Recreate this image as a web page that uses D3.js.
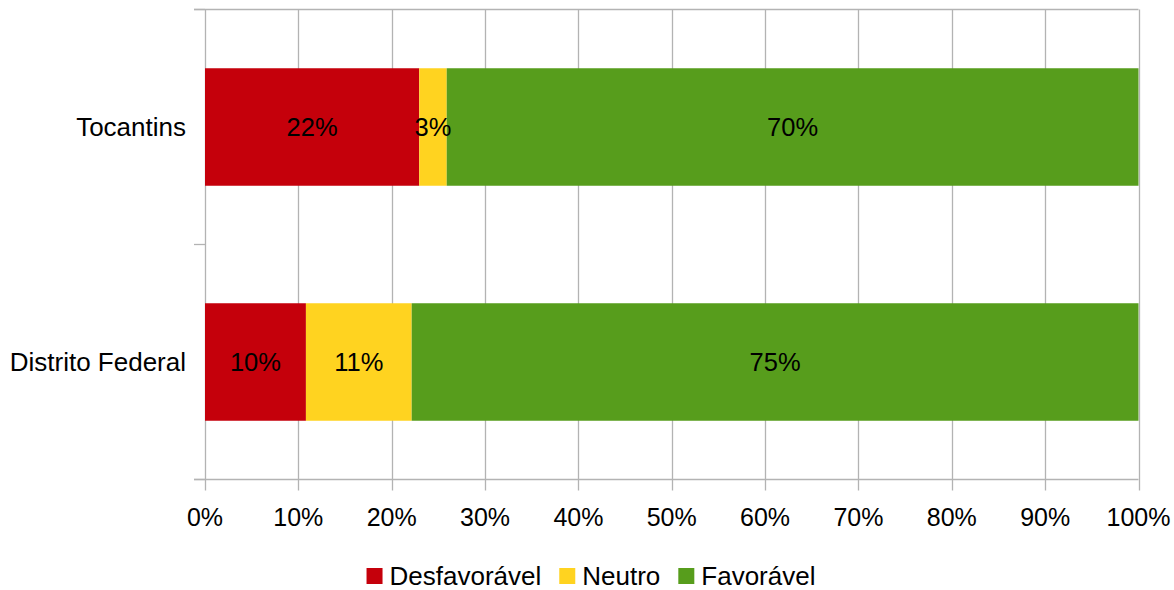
<!DOCTYPE html>
<html><head><meta charset="utf-8">
<script src="https://cdn.jsdelivr.net/npm/d3@7"></script>
<style>body{margin:0;background:#fff}svg{display:block;font-family:"Liberation Sans",Arial,sans-serif}</style>
</head><body><svg id="c" width="1174" height="590"></svg>
<script>
const categories = ["Tocantins", "Distrito Federal"];
const seriesNames = ["Desfavorável", "Neutro", "Favorável"];
const desfavoravel = [21.8, 10.4];
const neutro = [2.8, 10.9];
const favoravel = [70.4, 74.9];
const xTicks = [0,10,20,30,40,50,60,70,80,90,100];
const colors = ["#c5000b", "#ffd320", "#579d1c"];

const svg = d3.select("#c");
const L = 205, R = 1138.5, T = 9.5, B = 479.5;
const x = d3.scaleLinear().domain([0,100]).range([L,R]);
const y = d3.scaleBand().domain(categories).range([T,B]).paddingInner(0.5).paddingOuter(0.25);
const grid = "#b3b3b3";

svg.append("g").selectAll("line").data(xTicks).join("line")
  .attr("x1", d=>Math.round(x(d))+0.5).attr("x2", d=>Math.round(x(d))+0.5)
  .attr("y1", T).attr("y2", B+11).attr("stroke", grid).attr("stroke-width",1.3);
svg.append("line").attr("x1", L-11).attr("x2", R).attr("y1", T).attr("y2", T).attr("stroke", grid).attr("stroke-width",1.3);
svg.append("line").attr("x1", L-11).attr("x2", R).attr("y1", B).attr("y2", B).attr("stroke", grid).attr("stroke-width",1.3);
const bounds = d3.range(categories.length+1).map(i => T + i*y.step());
svg.append("g").selectAll("line").data(bounds).join("line")
  .attr("x1", L-11).attr("x2", L).attr("y1", d=>d).attr("y2", d=>d).attr("stroke", grid).attr("stroke-width",1.3);

const rows = categories.map((c,i)=>({cat:c, v:[desfavoravel[i], neutro[i], favoravel[i]]}));
rows.forEach(r=>{
  const tot = d3.sum(r.v); let acc = 0;
  r.segs = r.v.map((v,k)=>{ const s={k, v, x0:acc/tot*100, x1:(acc+v)/tot*100}; acc+=v; return s; });
});
const gBars = svg.append("g");
rows.forEach(r=>{
  gBars.selectAll(null).data(r.segs).join("rect")
    .attr("x", d=>x(d.x0)).attr("width", d=>x(d.x1)-x(d.x0))
    .attr("y", y(r.cat)).attr("height", y.bandwidth())
    .attr("fill", d=>colors[d.k]);
});
rows.forEach(r=>{
  gBars.selectAll(null).data(r.segs).join("text")
    .attr("x", d=>(x(d.x0)+x(d.x1))/2).attr("y", y(r.cat)+y.bandwidth()/2)
    .attr("dy","0.35em").attr("text-anchor","middle").attr("font-size",25.5).attr("fill","#000")
    .text(d=>Math.round(d.v)+"%");
});

svg.append("g").selectAll("text").data(xTicks).join("text")
  .attr("x", d=>x(d)).attr("y", 517).attr("dy","0.35em").attr("text-anchor","middle")
  .attr("font-size",25).text(d=>d+"%");
svg.append("g").selectAll("text").data(categories).join("text")
  .attr("x", 186).attr("y", d=>y(d)+y.bandwidth()/2).attr("dy","0.35em").attr("text-anchor","end")
  .attr("font-size",26).text(d=>d);

const lg = svg.append("g");
let cx = 0;
seriesNames.forEach((n,i)=>{
  const g = lg.append("g").attr("transform",`translate(${cx},0)`);
  g.append("rect").attr("x",0).attr("y",-8).attr("width",16).attr("height",16).attr("fill",colors[i]);
  const t = g.append("text").attr("x",23).attr("y",0).attr("dy","0.35em").attr("font-size",26).text(n);
  cx += 23 + t.node().getComputedTextLength() + 18;
});
const lw = cx - 18;
lg.attr("transform",`translate(${(1174-lw)/2 + 4},576)`);
</script></body></html>
